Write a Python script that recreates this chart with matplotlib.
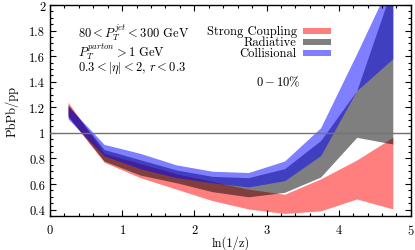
import matplotlib
matplotlib.use("Agg")
import matplotlib.pyplot as plt
from matplotlib.patches import Rectangle
from matplotlib.ticker import MultipleLocator, FuncFormatter
import numpy as np

plt.rcParams['font.family'] = 'serif'
plt.rcParams['font.serif'] = ['cmr10']
plt.rcParams['mathtext.fontset'] = 'cm'
plt.rcParams['axes.formatter.use_mathtext'] = True

# bin centres in ln(1/z)
x = [0.25, 0.75, 1.25, 1.75, 2.25, 2.75, 3.25, 3.75, 4.25, 4.75]

strong_lo = [1.13, 0.77, 0.65, 0.56, 0.47, 0.405, 0.37, 0.39, 0.483, 0.405]
strong_hi = [1.24, 0.84, 0.76, 0.68, 0.62, 0.56, 0.52, 0.64, 0.788, 0.965]
rad_lo = [1.13, 0.78, 0.67, 0.61, 0.54, 0.50, 0.535, 0.655, 0.965, 0.913]
rad_hi = [1.22, 0.87, 0.79, 0.71, 0.66, 0.65, 0.72, 0.94, 1.33, 2.15]
coll_lo = [1.11, 0.82, 0.72, 0.65, 0.61, 0.577, 0.626, 0.822, 1.33, 1.58]
coll_hi = [1.21, 0.91, 0.84, 0.75, 0.70, 0.69, 0.78, 1.04, 1.62, 2.22]

labels = ["Strong Coupling", "Radiative", "Collisional"]
colors = ["red", "black", "blue"]


def main():
    fig = plt.figure(figsize=(4.15, 2.51), dpi=100)
    ax = fig.add_axes([0.1205, 0.1355, 0.8695, 0.8405])

    bands = [(strong_lo, strong_hi), (rad_lo, rad_hi), (coll_lo, coll_hi)]
    for (lo, hi), c in zip(bands, colors):
        ax.fill_between(x, lo, hi, color=c, alpha=0.5, lw=0)

    ax.axhline(1.0, color='0.45', lw=1.0, zorder=5)

    ax.set_xlim(0, 5)
    ax.set_ylim(0.35, 2)
    ax.xaxis.set_major_locator(MultipleLocator(1))
    ax.xaxis.set_minor_locator(MultipleLocator(0.2))
    ax.yaxis.set_major_locator(MultipleLocator(0.2))
    ax.yaxis.set_minor_locator(MultipleLocator(0.05))
    ax.yaxis.set_major_formatter(FuncFormatter(lambda v, p: "%g" % round(v, 2)))
    ax.tick_params(which='both', direction='in', top=True, right=True, labelsize=9)
    ax.tick_params(axis='x', which='major', pad=5)
    ax.tick_params(which='major', length=4, width=0.8)
    ax.tick_params(which='minor', length=2.5, width=0.8)
    for s in ax.spines.values():
        s.set_linewidth(1.0)

    ax.set_xlabel("ln(1/z)", fontsize=9, labelpad=-1)
    ax.set_ylabel("PbPb/pp", fontsize=9, labelpad=8)

    ax.text(0.078, 0.875, r"$80 < P_T^{jet} < 300$ GeV", transform=ax.transAxes,
            fontsize=9, va='center')
    ax.text(0.078, 0.785, r"$P_T^{parton} > 1$ GeV", transform=ax.transAxes,
            fontsize=9, va='center')
    ax.text(0.078, 0.705, r"$0.3 < |\eta| < 2$, $r < 0.3$", transform=ax.transAxes,
            fontsize=9, va='center')
    ax.text(0.634, 0.64, r"$0 - 10\%$", transform=ax.transAxes,
            fontsize=9, va='center', ha='center')

    # gnuplot style key: right-justified text, swatch on the right
    for i, (lab, c) in enumerate(zip(labels, colors)):
        yy = 0.875 - i * 0.052
        ax.text(0.684, yy, lab, transform=ax.transAxes, fontsize=9,
                va='center', ha='right')
        ax.add_patch(Rectangle((0.700, yy - 0.014), 0.08, 0.028,
                               transform=ax.transAxes, color=c, alpha=0.5,
                               lw=0))

    fig.savefig("out.png", dpi=100)


if __name__ == "__main__":
    main()
